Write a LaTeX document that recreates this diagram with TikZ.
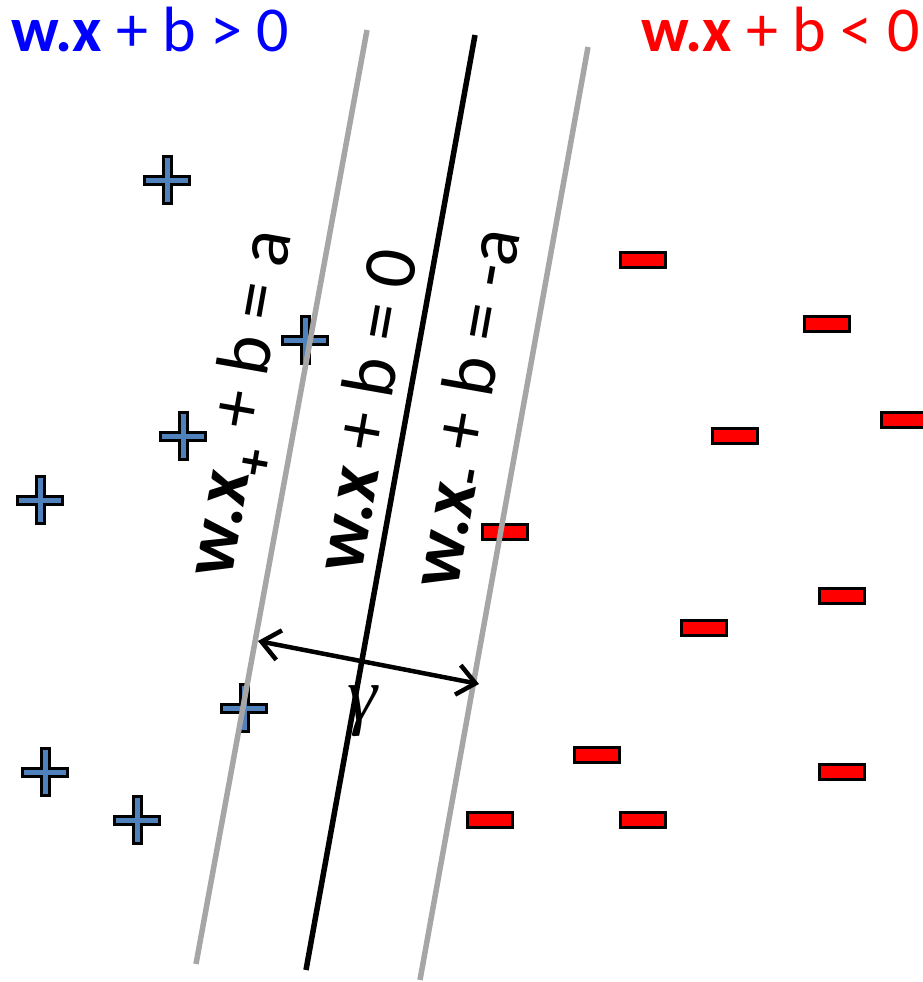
\documentclass[tikz,border=0pt]{standalone}
\usepackage{fontspec}
\setmainfont{Carlito}
\newfontfamily\greekfont{Liberation Serif}
\usetikzlibrary{arrows.meta}
\definecolor{posblue}{HTML}{4F81BD}
\definecolor{margingray}{HTML}{A6A6A6}

\begin{document}
\begin{tikzpicture}[x=1pt, y=-1pt, every node/.style={inner sep=0pt},
    bound/.style={draw=margingray, line width=5.5pt},
    hyper/.style={draw=black, line width=5.5pt},
    posmark/.style={draw=black, fill=posblue, line width=3pt},
    negmark/.style={draw=black, fill=red, line width=3pt, minimum width=45pt, minimum height=15pt},
    plusmark/.pic={\draw[posmark] (-4,-23.5) -- (4,-23.5) -- (4,-4) -- (22.5,-4)
      -- (22.5,4) -- (4,4) -- (4,23.5) -- (-4,23.5) -- (-4,4)
      -- (-22.5,4) -- (-22.5,-4) -- (-4,-4) -- cycle;},
    sidelabel/.style={font=\fontsize{64}{72}\selectfont},
    eqlabel/.style={rotate=80, font=\fontsize{75}{84}\selectfont},
    gaparrow/.style={{Straight Barb[length=18pt,width=30pt]}-{Straight Barb[length=18pt,width=30pt]}, line width=4.5pt}]
  \useasboundingbox (0,0) rectangle (922,982);

  % positive samples
  \foreach \x/\y [count=\i] in {167/180, 305/340, 183/436, 40/500, 244/708, 45/772, 137/820}
    \pic (p\i) at (\x,\y) {plusmark};
  % negative samples
  \foreach \x/\y [count=\i] in {643/260, 827/324, 904/420, 735/436, 505/532, 842/596,
      704/628, 597/755, 842/772, 490/820, 643/820}
    \node[negmark] (m\i) at (\x,\y) {};

  % margins and separating hyperplane
  \coordinate (lt) at (367,30);  \coordinate (lb) at (196,964);
  \coordinate (ct) at (475,35);  \coordinate (cb) at (306,970);
  \coordinate (rt) at (588,47);  \coordinate (rb) at (420,980);
  \draw[bound] (lt) -- (lb);
  \draw[hyper] (ct) -- (cb);
  \draw[bound] (rt) -- (rb);

  % margin width
  \coordinate (gl) at (258,641);
  \coordinate (gr) at (479,684);
  \draw[gaparrow] (gl) -- (gr);
  \node[font=\greekfont\itshape\fontsize{76}{84}\selectfont, anchor=base] (gap) at (362,720) {γ};

  % labels
  \node[sidelabel, text=blue, anchor=base west] (posside) at (11,52) {\textbf{w.x} + b > 0};
  \node[sidelabel, text=red, anchor=base east] (negside) at (920,52) {\textbf{w.x} + b < 0};
  \node[eqlabel] (lplus) at (246,404) {\textbf{w.x}\textsubscript{\textbf{+}} + b = a};
  \node[eqlabel] (lzero) at (364,410) {\textbf{w.x} + b = 0};
  \node[eqlabel] (lminus) at (468,408) {\textbf{w.x}\textsubscript{\textbf{-}} + b = -a};
\end{tikzpicture}
\end{document}
